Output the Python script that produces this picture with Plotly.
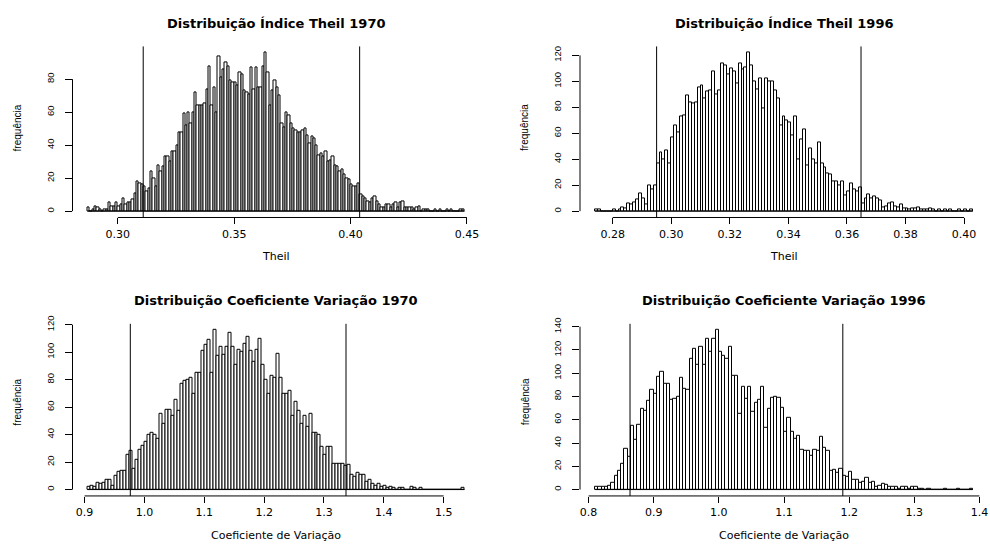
import plotly.graph_objects as go

# ---------------- data (counts per bin) ----------------
theil70_counts = [
    2, 0, 1, 3, 2, 1, 0, 1, 1, 5,
    3, 3, 5, 3, 4, 8, 4, 5, 5, 7,
    11, 18, 17, 16, 15, 12, 14, 24, 20, 15,
    28, 24, 27, 33, 33, 30, 36, 36, 40, 48,
    48, 59, 52, 60, 53, 60, 72, 64, 64, 64,
    65, 74, 88, 64, 75, 60, 94, 81, 86, 90,
    88, 79, 78, 78, 76, 84, 83, 73, 72, 71,
    87, 74, 87, 75, 75, 88, 96, 84, 64, 73,
    79, 75, 70, 53, 51, 60, 58, 53, 50, 49,
    48, 48, 49, 50, 46, 41, 45, 44, 40, 34,
    35, 33, 36, 30, 31, 33, 28, 27, 24, 25,
    22, 20, 19, 16, 15, 15, 17, 10, 9, 8,
    6, 5, 8, 9, 6, 4, 2, 2, 4, 4,
    2, 4, 5, 2, 5, 6, 2, 2, 2, 2,
    1, 2, 3, 0, 1, 1, 1, 0, 0, 1,
    0, 1, 0, 0, 1, 0, 1, 0, 0, 0,
    1, 1,
]
theil96_counts = [
    1, 1, 0, 0, 0, 0, 1, 0, 1,
    3, 2, 6, 5, 7, 9, 14, 10, 5, 20, 17, 20,
    37, 45, 40, 47, 37, 57, 66, 61, 73, 74,
    89, 84, 83, 84, 95, 97, 87, 92, 93, 108,
    90, 93, 114, 112, 105, 110, 108, 98, 114, 109,
    111, 122, 112, 100, 94, 102, 79, 102, 100, 100,
    93, 87, 66, 73, 70, 68, 58, 73, 40, 55,
    63, 35, 48, 40, 37, 53, 37, 34, 29, 28,
    23, 23, 20, 23, 12, 15, 21, 17, 15, 18,
    6, 10, 13, 10, 11, 10, 8, 3, 4, 6,
    7, 4, 3, 5, 2, 2, 1, 2, 2, 3,
    1, 1, 1, 2, 1, 0, 1, 0, 1, 0,
    1, 0, 0, 1, 0, 1, 0, 1,
]
cv70_counts = [
    2, 3, 2, 5, 4, 5, 7, 7, 3, 10,
    13, 14, 14, 25, 28, 15, 22, 29, 32, 35,
    40, 41, 40, 37, 55, 48, 58, 58, 54, 65,
    57, 77, 79, 80, 81, 70, 85, 85, 101, 105,
    109, 85, 116, 97, 104, 98, 104, 114, 104, 91,
    102, 100, 106, 111, 101, 93, 102, 110, 91, 80,
    70, 83, 81, 99, 81, 70, 70, 72, 54, 64,
    57, 48, 54, 46, 55, 41, 41, 40, 31, 25,
    31, 31, 19, 19, 19, 19, 17, 18, 11, 9,
    12, 11, 11, 6, 7, 4, 3, 4, 2, 3,
    1, 2, 1, 0, 1, 1, 0, 0, 2, 1,
    0, 1, 0, 0, 0, 0, 0, 0, 0, 0,
    0, 0, 0, 0, 0, 1,
]
cv96_counts = [
    2, 2, 2, 2, 3, 6, 12, 16, 22, 35,
    28, 55, 43, 56, 69, 68, 76, 86, 82, 97,
    101, 91, 91, 77, 78, 80, 96, 87, 86, 112,
    121, 107, 123, 107, 130, 118, 130, 137, 118, 115,
    112, 123, 98, 98, 65, 88, 78, 88, 67, 75,
    77, 88, 53, 69, 79, 80, 79, 70, 50, 62,
    50, 44, 46, 34, 33, 33, 29, 34, 33, 45,
    36, 33, 16, 17, 14, 18, 12, 11, 15, 8,
    8, 6, 7, 10, 6, 7, 2, 3, 5, 4,
    2, 2, 2, 1, 2, 2, 1, 2, 2, 1,
    1, 0, 1, 0, 0, 0, 0, 1, 0, 0,
    0, 1, 0, 0, 0, 1,
]

# first break and bin width of each histogram
theil70_start, theil70_binwidth = 0.287, 0.001
theil96_start, theil96_binwidth = 0.274, 0.001
cv70_start, cv70_binwidth = 0.905, 0.005
cv96_start, cv96_binwidth = 0.81, 0.005

# vertical reference lines (interval limits)
theil70_lines = [0.3109, 0.4039]
theil96_lines = [0.2950, 0.3648]
cv70_lines = [0.9764, 1.3368]
cv96_lines = [0.8636, 1.1903]

# tick values
theil70_xticks = [0.30, 0.35, 0.40, 0.45]
theil96_xticks = [0.28, 0.30, 0.32, 0.34, 0.36, 0.38, 0.40]
cv70_xticks = [0.9, 1.0, 1.1, 1.2, 1.3, 1.4, 1.5]
cv96_xticks = [0.8, 0.9, 1.0, 1.1, 1.2, 1.3, 1.4]
theil70_yticks = [0, 20, 40, 60, 80]
theil96_yticks = [0, 20, 40, 60, 80, 100, 120]
cv70_yticks = [0, 20, 40, 60, 80, 100, 120]
cv96_yticks = [0, 20, 40, 60, 80, 100, 120, 140]

titles = ["Distribuição Índice Theil 1970", "Distribuição Índice Theil 1996",
          "Distribuição Coeficiente Variação 1970", "Distribuição Coeficiente Variação 1996"]
xlabels = ["Theil", "Theil", "Coeficiente de Variação", "Coeficiente de Variação"]
ylabel = "frequência"

# ---------------- layout geometry (pixels) ----------------
W, H = 990, 546
COLS = [(72.5, 479.7), (580.0, 988.0)]
ROWS = [(39.0, 212.6), (320.5, 495.2)]
YLABEL_Y = [121.7, 400.0]

panels = [
    dict(c=theil70_counts, s=theil70_start, w=theil70_binwidth, q=theil70_lines,
         xt=theil70_xticks, yt=theil70_yticks, fmt=".2f", col=0, row=0),
    dict(c=theil96_counts, s=theil96_start, w=theil96_binwidth, q=theil96_lines,
         xt=theil96_xticks, yt=theil96_yticks, fmt=".2f", col=1, row=0),
    dict(c=cv70_counts, s=cv70_start, w=cv70_binwidth, q=cv70_lines,
         xt=cv70_xticks, yt=cv70_yticks, fmt=".1f", col=0, row=1),
    dict(c=cv96_counts, s=cv96_start, w=cv96_binwidth, q=cv96_lines,
         xt=cv96_xticks, yt=cv96_yticks, fmt=".1f", col=1, row=1),
]

fig = go.Figure()
shapes = []
annotations = []
layout_axes = {}

TICKFONT_X = dict(family="DejaVu Sans", size=11, color="black")
TICKFONT_Y = dict(family="Liberation Sans", size=9.5, color="black")

for k, p in enumerate(panels):
    n = k + 1
    xa = "x" if n == 1 else f"x{n}"
    ya = "y" if n == 1 else f"y{n}"
    xkey = "xaxis" if n == 1 else f"xaxis{n}"
    ykey = "yaxis" if n == 1 else f"yaxis{n}"

    counts = p["c"]
    nb = len(counts)
    centers = [p["s"] + (i + 0.5) * p["w"] for i in range(nb)]
    lo = p["s"]
    hi = p["s"] + nb * p["w"]
    xpad = 0.04 * (hi - lo)
    ymax = max(counts)
    ypad = 0.04 * ymax

    fig.add_trace(go.Bar(
        x=centers, y=counts, width=[p["w"]] * nb,
        marker=dict(color="white", line=dict(color="black", width=1)),
        xaxis=xa, yaxis=ya, showlegend=False, hoverinfo="x+y",
    ))
    # baseline drawn by zero-height bins
    fig.add_trace(go.Scatter(
        x=[lo, hi], y=[0, 0], mode="lines", line=dict(color="black", width=1),
        xaxis=xa, yaxis=ya, showlegend=False, hoverinfo="skip",
    ))

    cx0, cx1 = COLS[p["col"]]
    ry0, ry1 = ROWS[p["row"]]
    layout_axes[xkey] = dict(
        domain=[cx0 / W, cx1 / W], range=[lo - xpad, hi + xpad], anchor=ya,
        tickvals=p["xt"], tickformat=p["fmt"], ticks="outside", ticklen=6,
        tickwidth=1, tickcolor="black", showline=False, showgrid=False,
        zeroline=False, tickfont=TICKFONT_X, ticklabelstandoff=0,
    )
    layout_axes[ykey] = dict(
        domain=[1 - ry1 / H, 1 - ry0 / H], range=[-ypad, ymax + ypad], anchor=xa,
        tickvals=p["yt"], ticks="outside", ticklen=7, tickwidth=1,
        tickcolor="black", showline=False, showgrid=False, zeroline=False,
        tickangle=-90, tickfont=TICKFONT_Y, ticklabelstandoff=7,
    )

    # R-style axis lines spanning first to last tick
    shapes.append(dict(type="line", xref=xa, x0=p["xt"][0], x1=p["xt"][-1],
                       yref=f"{ya} domain", y0=0, y1=0,
                       line=dict(color="black", width=1)))
    shapes.append(dict(type="line", xref=f"{xa} domain", x0=0, x1=0,
                       yref=ya, y0=p["yt"][0], y1=p["yt"][-1],
                       line=dict(color="black", width=1)))
    # interval limit lines
    for qv in p["q"]:
        shapes.append(dict(type="line", xref=xa, x0=qv, x1=qv,
                           yref=f"{ya} domain", y0=0, y1=1,
                           line=dict(color="black", width=1)))

    xc = (cx0 + cx1) / 2 / W
    # main title
    annotations.append(dict(
        text=f"<b>{titles[k]}</b>", xref="paper", yref="paper",
        x=xc, y=1 - (ry0 - 23.5) / H, xanchor="center", yanchor="middle",
        showarrow=False, font=dict(family="DejaVu Sans", size=13, color="black"),
    ))
    # x label
    annotations.append(dict(
        text=xlabels[k], xref="paper", yref="paper",
        x=xc, y=1 - (ry1 + 40.0) / H, xanchor="center", yanchor="middle",
        showarrow=False, font=dict(family="DejaVu Sans", size=11, color="black"),
    ))
    # y label
    annotations.append(dict(
        text=ylabel, xref="paper", yref="paper", textangle=-90,
        x=(cx0 - 55) / W, y=1 - YLABEL_Y[p["row"]] / H,
        xanchor="center", yanchor="middle", showarrow=False,
        font=dict(family="Liberation Sans", size=10, color="black"),
    ))

fig.update_layout(
    width=W, height=H, margin=dict(l=0, r=0, t=0, b=0),
    paper_bgcolor="white", plot_bgcolor="white",
    shapes=shapes, annotations=annotations, showlegend=False,
    barmode="overlay", bargap=0,
    **layout_axes,
)

fig.write_html(
    "out.html",
    config={"displayModeBar": False},
    post_script="document.body.style.margin='0';document.body.style.overflow='hidden';",
)
